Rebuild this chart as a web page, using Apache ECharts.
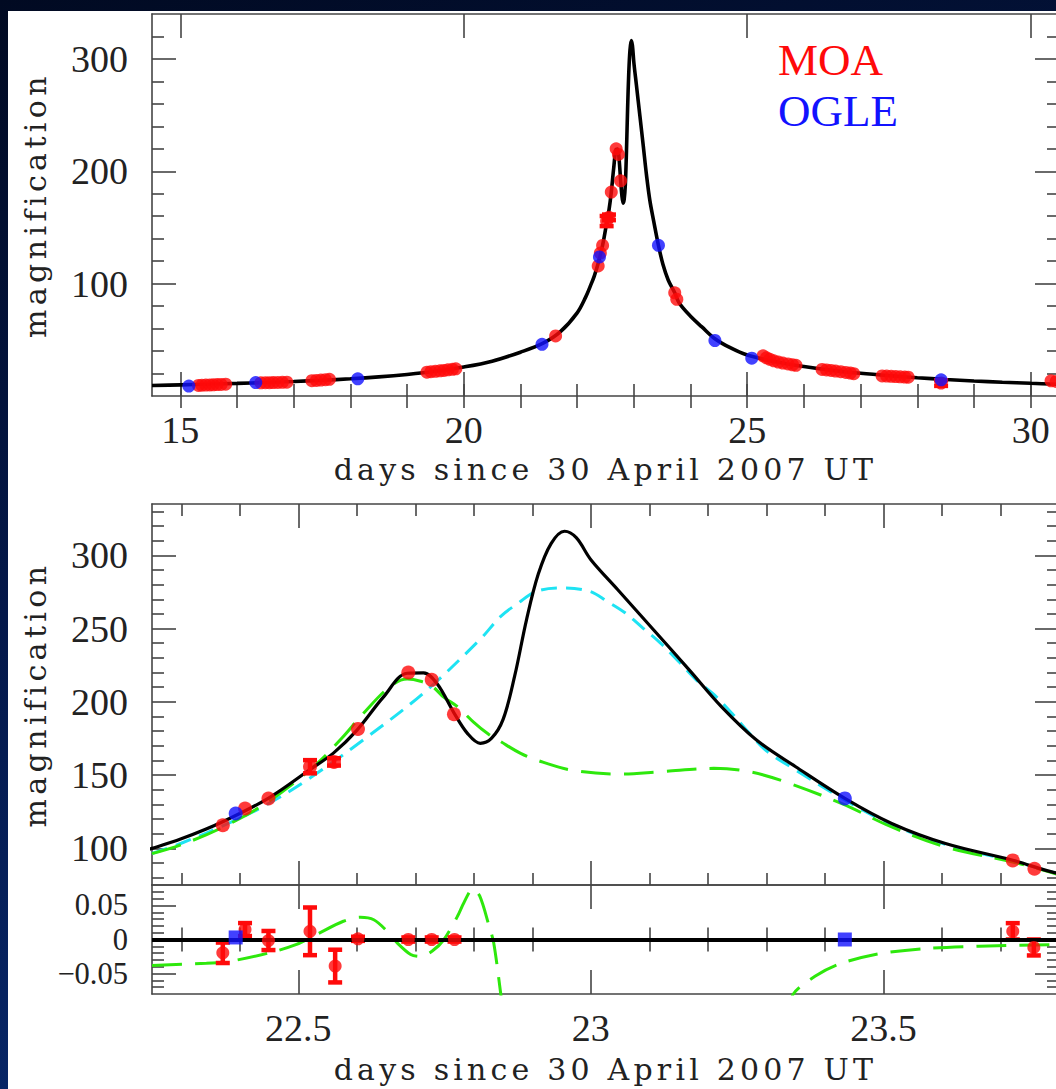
<!DOCTYPE html>
<html>
<head>
<meta charset="utf-8">
<title>Microlensing light curve: MOA and OGLE photometry</title>
<script src="https://cdn.jsdelivr.net/npm/echarts@6/dist/echarts.min.js"></script>
<style>
  html, body { margin: 0; padding: 0; width: 1056px; height: 1089px; overflow: hidden;
    background: linear-gradient(165deg, #010a22 0%, #04184a 45%, #0a2e76 100%); }
  #chart { position: absolute; left: 8px; top: 11px; width: 1064px; height: 1078px; background: #ffffff; }
</style>
</head>
<body>
<div id="chart"></div>
<script>
// ---- Binary-lens model (black curve), magnification vs day ----
const modelDay = [14.5, 15.0, 15.5, 16.0, 16.5, 17.0, 17.5, 18.0, 18.5, 19.0, 19.5, 20.0, 20.5, 21.0, 21.4, 21.7,
  22.0, 22.15, 22.25, 22.3, 22.37, 22.45, 22.52, 22.56, 22.6, 22.645, 22.686, 22.714, 22.737, 22.766, 22.789,
  22.811, 22.83, 22.85, 22.87, 22.89, 22.91, 22.932, 22.955, 22.975, 23.0, 23.046, 23.107, 23.168, 23.223,
  23.283, 23.35, 23.434, 23.514, 23.606, 23.721, 23.8, 24.0, 24.2, 24.43, 24.7, 25.0, 25.5, 26.0, 26.5, 27.0,
  27.5, 28.0, 28.5, 29.0, 29.5, 30.0, 30.5];
const modelMag = [9.3, 9.9, 10.5, 11.2, 12.0, 12.9, 14.0, 15.3, 17.0, 19.2, 22.0, 25.8, 31.0, 39.0, 47.0, 57.0,
  74.0, 88.0, 100.0, 106.5, 118.0, 134.5, 153.8, 165.0, 180.5, 203.0, 219.5, 219.8, 212.5, 192.5, 178.5,
  171.7, 175.0, 188.0, 218.0, 256.0, 287.0, 308.0, 316.4, 312.0, 297.0, 276.5, 249.2, 221.8, 196.7,
  173.9, 155.7, 134.1, 117.0, 103.3, 91.9, 82.8, 71.0, 61.5, 51.0, 43.0, 36.5, 30.5, 26.2, 22.8, 20.2,
  18.1, 16.3, 14.7, 13.4, 12.3, 11.3, 10.4];

// ---- Single-lens fit (cyan dashed) ----
const pointLensDay = [22.25, 22.3, 22.383, 22.451, 22.52, 22.611, 22.714, 22.81, 22.846, 22.876, 22.907, 22.952,
  22.998, 23.028, 23.059, 23.089, 23.119, 23.15, 23.18, 23.211, 23.241, 23.271, 23.3, 23.35, 23.434, 23.514,
  23.606, 23.721, 23.8];
const pointLensMag = [96.5, 103.5, 117.5, 131.0, 148.0, 174.0, 206.0, 242.3, 258.3, 267.4, 275.4, 277.7,
  275.4, 268.5, 260.6, 250.3, 240.1, 227.5, 215.0, 204.7, 192.2, 178.5, 166.5, 153.5, 133.0, 116.3,
  102.8, 91.3, 82.4];

// ---- Alternative binary fit (green long dashes) ----
const altFitDay = [22.25, 22.3, 22.371, 22.451, 22.531, 22.575, 22.611, 22.657, 22.686, 22.709, 22.729, 22.749,
  22.772, 22.8, 22.823, 22.846, 22.88, 22.907, 22.967, 23.046, 23.119, 23.21, 23.271, 23.332, 23.429, 23.514,
  23.606, 23.721, 23.8];
const altFitMag = [96.4, 102.5, 114.4, 132.5, 157.5, 175.5, 192.0, 210.5, 215.5, 214.0, 210.5, 203.0,
  196.7, 186.0, 178.5, 172.8, 164.8, 160.3, 153.4, 150.7, 152.3, 154.6, 152.3, 145.4, 130.5, 114.6,
  101.0, 90.7, 82.0];

// ---- Fractional residual of the alternative fit ('-' leaves a gap) ----
const altResDay = [22.25, 22.343, 22.383, 22.451, 22.497, 22.531, 22.577, 22.606, 22.629, 22.652, 22.669, 22.692,
  22.709, 22.729, 22.749, 22.772, 22.783, 22.798, 22.81, 22.826, 22.834, 22.846, 22.85, 23.0,
  23.34, 23.346, 23.383, 23.423, 23.486, 23.566, 23.663, 23.8];
const altResVal = [-0.038, -0.035, -0.032, -0.0195, -0.0073, 0.0073, 0.0268, 0.0326, 0.029, 0.012, -0.005, -0.022,
  -0.025, -0.017, 0.0, 0.034, 0.054, 0.074, 0.064, 0.02, -0.005, -0.08, -0.11, '-',
  -0.11, -0.08, -0.054, -0.0365, -0.022, -0.0136, -0.0098, -0.0073];

// ---- MOA photometry ----
const moaDay = [15.32, 15.38, 15.45, 15.52, 15.58, 15.65, 15.72, 15.80,
  16.42, 16.50, 16.57, 16.64, 16.72, 16.80, 16.88,
  17.32, 17.40, 17.48, 17.56, 17.63,
  19.35, 19.42, 19.50, 19.58, 19.65, 19.72, 19.80, 19.86,
  21.62,
  22.371, 22.409, 22.449, 22.520, 22.561, 22.602, 22.688, 22.728, 22.766,
  23.721, 23.758,
  25.28, 25.34, 25.40, 25.47, 25.55, 25.63, 25.72, 25.80, 25.86,
  26.32, 26.40, 26.48, 26.56, 26.65, 26.74, 26.82, 26.88,
  27.38, 27.46, 27.54, 27.62, 27.70, 27.78, 27.84,
  28.42, 30.36, 30.45];
const moaMag = [9.4, 9.6, 9.7, 9.9, 10.0, 10.2, 10.3, 10.5,
  11.7, 11.8, 11.9, 12.0, 12.1, 12.2, 12.3,
  13.6, 13.9, 14.2, 14.5, 14.8,
  21.2, 21.6, 22.0, 22.4, 22.8, 23.3, 23.8, 24.2,
  53.5,
  115.8, 127.2, 134.0, 155.7, 159.0, 181.5, 220.0, 215.0, 191.5,
  91.8, 86.1,
  35.8, 34.0, 32.6, 31.3, 30.2, 29.3, 28.5, 27.8, 27.3,
  23.6, 23.2, 22.7, 22.2, 21.6, 21.0, 20.4, 19.9,
  17.9, 17.7, 17.5, 17.3, 17.1, 16.9, 16.7,
  11.5, 13.5, 13.0];
const moaErr = [0, 0, 0, 0, 0, 0, 0, 0,
  0, 0, 0, 0, 0, 0, 0,
  0, 0, 0, 0, 0,
  0, 0, 0, 0, 0, 0, 0, 0,
  0,
  0, 0, 0, 4.5, 2.5, 0, 0, 0, 0,
  0, 0,
  0, 0, 0, 0, 0, 0, 0, 0, 0,
  0, 0, 0, 0, 0, 0, 0, 0,
  0, 0, 0, 0, 0, 0, 0,
  2.5, 0, 0];

// ---- OGLE photometry ----
const ogleDay = [15.15, 16.33, 18.13, 21.38, 22.393, 23.434, 24.43, 25.08, 28.42];
const ogleMag = [8.8, 12.0, 15.3, 46.0, 123.8, 134.1, 49.4, 33.7, 14.4];

// ---- Residuals from the best model ----
const moaResDay = [22.371, 22.409, 22.449, 22.520, 22.563, 22.602, 22.688, 22.728, 22.767, 23.721, 23.757];
const moaResVal = [-0.0195, 0.0146, -0.0015, 0.012, -0.039, 0.001, 0.0, 0.0, 0.0, 0.012, -0.0117];
const moaResErr = [0.015, 0.0095, 0.014, 0.035, 0.024, 0.003, 0.003, 0.003, 0.003, 0.012, 0.0117];
const ogleResDay = [22.393, 23.434];
const ogleResVal = [0.003, 0.0];

// ---- Axis ticks ----
const wideDayTicks = [15, 20, 25, 30];
const wideDayMinor = [15, 16, 17, 18, 19, 20, 21, 22, 23, 24, 25, 26, 27, 28, 29, 30];
const wideMagTicks = [100, 200, 300];
const wideMagMinor = [20, 40, 60, 80, 120, 140, 160, 180, 220, 240, 260, 280, 320];
const zoomDayTicks = [22.5, 23, 23.5];
const zoomDayMinor = [22.3, 22.4, 22.6, 22.7, 22.8, 22.9, 23.1, 23.2, 23.3, 23.4, 23.6, 23.7];
const zoomMagTicks = [100, 150, 200, 250, 300];
const zoomMagMinor = [80, 90, 110, 120, 130, 140, 160, 170, 180, 190, 210, 220, 230, 240, 260, 270, 280, 290,
  310, 320, 330];
const resTicks = [-0.05, 0, 0.05];
const resOuterLabels = [-0.05, 0.05];
const resZeroLabel = [0];
const resMinor = [-0.07, -0.06, -0.04, -0.03, -0.02, -0.01, 0.01, 0.02, 0.03, 0.04, 0.06, 0.07];

const dayTitle = 'days since 30 April 2007 UT';
const magTitle = 'magnification';

// ---- styling ----
const RED = '#ff0a0a', BLUE = '#1212ff', CYAN = '#1ee3f3', GREEN = '#2ee80c';
const FRAME = '#454545';
const tickFont = { fontFamily: 'Liberation Serif', fontSize: 38, color: '#222', hideOverlap: false };
const nameFont = { fontFamily: 'DejaVu Serif', fontSize: 30, color: '#222' };

const pairs = (xs, ys) => xs.map((x, i) => [x, ys[i]]);
const triples = (xs, ys, es) => xs.map((x, i) => [x, ys[i], es[i]]);
const signed = v => (v < 0 ? '\u2212' + String(-v) : String(v));

// Four axes per side pair: labelled major ticks, minor ticks, and the mirrored pair.
function frameAxes(kind, gridIndex, min, max, majors, minors, first, second) {
  const sides = kind === 'x' ? ['bottom', 'top'] : ['left', 'right'];
  const tick = (vals, len) => ({ show: true, inside: true, length: len, customValues: vals,
    lineStyle: { color: FRAME, width: 1.6 } });
  const base = () => ({ gridIndex, type: 'value', min, max, splitLine: { show: false },
    axisLine: { show: true, onZero: false, lineStyle: { color: FRAME, width: 1.6 } } });
  return [
    Object.assign(base(), { position: sides[0], axisTick: tick(majors, 24), axisLabel: { show: false } }, first || {}),
    Object.assign(base(), { position: sides[0], axisLine: { show: false }, axisTick: tick(minors, 12), axisLabel: { show: false } }, second || {}),
    Object.assign(base(), { position: sides[1], axisTick: tick(majors, 24), axisLabel: { show: false } }),
    Object.assign(base(), { position: sides[1], axisLine: { show: false }, axisTick: tick(minors, 12), axisLabel: { show: false } })
  ];
}

function errorBars(color) {
  return function (params, api) {
    const x = api.value(0), y = api.value(1), e = api.value(2);
    if (!(e > 0)) return;
    const hi = api.coord([x, y + e]);
    const lo = api.coord([x, y - e]);
    const cap = 7;
    const style = { stroke: color, lineWidth: 4.5 };
    return { type: 'group', children: [
      { type: 'line', shape: { x1: hi[0], y1: hi[1], x2: lo[0], y2: lo[1] }, style },
      { type: 'line', shape: { x1: hi[0] - cap, y1: hi[1], x2: hi[0] + cap, y2: hi[1] }, style },
      { type: 'line', shape: { x1: lo[0] - cap, y1: lo[1], x2: lo[0] + cap, y2: lo[1] }, style }
    ] };
  };
}

// residual labels sit close together, so they use a slightly smaller face
const resLabel = vals => Object.assign({ show: true, customValues: vals, margin: 24, formatter: signed,
  showMinLabel: true, showMaxLabel: true }, tickFont, { fontSize: 30.5 });

const xAxes = [].concat(
  frameAxes('x', 0, 14.5, 30.5, wideDayTicks, wideDayMinor, {
    axisLabel: Object.assign({ show: true, customValues: wideDayTicks, margin: 15 }, tickFont),
    name: dayTitle, nameLocation: 'middle', nameGap: 58, nameTextStyle: nameFont }),
  frameAxes('x', 1, 22.25, 23.8, zoomDayTicks, zoomDayMinor),
  frameAxes('x', 2, 22.25, 23.8, zoomDayTicks, zoomDayMinor, {
    axisLabel: Object.assign({ show: true, customValues: zoomDayTicks, margin: 15 }, tickFont),
    name: dayTitle, nameLocation: 'middle', nameGap: 60, nameTextStyle: nameFont })
);
const yAxes = [].concat(
  frameAxes('y', 0, 0, 340, wideMagTicks, wideMagMinor, {
    axisLabel: Object.assign({ show: true, customValues: wideMagTicks, margin: 24 }, tickFont),
    name: magTitle, nameLocation: 'middle', nameGap: 102, nameTextStyle: nameFont }),
  frameAxes('y', 1, 75, 335, zoomMagTicks, zoomMagMinor, {
    axisLabel: Object.assign({ show: true, customValues: zoomMagTicks, margin: 24 }, tickFont),
    name: magTitle, nameLocation: 'middle', nameGap: 102, nameTextStyle: nameFont }),
  // the tightly packed residual labels are split over the two left axes
  frameAxes('y', 2, -0.08, 0.08, resTicks, resMinor,
    { axisLabel: resLabel(resOuterLabels) },
    { axisLabel: resLabel(resZeroLabel) })
);

const series = [
  // wide view
  { name: 'model', type: 'line', xAxisIndex: 0, yAxisIndex: 0, data: pairs(modelDay, modelMag),
    symbol: 'none', smooth: 0.35, lineStyle: { color: '#000', width: 3.6 }, z: 2 },
  { name: 'MOA', type: 'custom', xAxisIndex: 0, yAxisIndex: 0, data: triples(moaDay, moaMag, moaErr),
    encode: { x: 0, y: 1 }, renderItem: errorBars(RED), clip: true, z: 3 },
  { name: 'MOA', type: 'scatter', xAxisIndex: 0, yAxisIndex: 0, data: pairs(moaDay, moaMag),
    symbol: 'circle', symbolSize: 13, itemStyle: { color: RED }, z: 4 },
  { name: 'OGLE', type: 'scatter', xAxisIndex: 0, yAxisIndex: 0, data: pairs(ogleDay, ogleMag),
    symbol: 'circle', symbolSize: 13, itemStyle: { color: BLUE }, z: 5 },

  // zoom on the caustic crossing
  { name: 'single lens', type: 'line', xAxisIndex: 4, yAxisIndex: 4, data: pairs(pointLensDay, pointLensMag),
    symbol: 'none', smooth: 0.35, lineStyle: { color: CYAN, width: 3, type: [16, 9] }, z: 2 },
  { name: 'alternative', type: 'line', xAxisIndex: 4, yAxisIndex: 4, data: pairs(altFitDay, altFitMag),
    symbol: 'none', smooth: 0.35, lineStyle: { color: GREEN, width: 3, type: [30, 13] }, z: 2 },
  { name: 'model', type: 'line', xAxisIndex: 4, yAxisIndex: 4, data: pairs(modelDay, modelMag),
    symbol: 'none', smooth: 0.35, lineStyle: { color: '#000', width: 3.2 }, z: 3 },
  { name: 'MOA', type: 'custom', xAxisIndex: 4, yAxisIndex: 4, data: triples(moaDay, moaMag, moaErr),
    encode: { x: 0, y: 1 }, renderItem: errorBars(RED), clip: true, z: 4 },
  { name: 'MOA', type: 'scatter', xAxisIndex: 4, yAxisIndex: 4, data: pairs(moaDay, moaMag), clip: true,
    symbol: 'circle', symbolSize: 14, itemStyle: { color: RED }, z: 5 },
  { name: 'OGLE', type: 'scatter', xAxisIndex: 4, yAxisIndex: 4, data: pairs(ogleDay, ogleMag), clip: true,
    symbol: 'circle', symbolSize: 14, itemStyle: { color: BLUE }, z: 6 },

  // residuals
  { name: 'alternative residual', type: 'line', xAxisIndex: 8, yAxisIndex: 8, data: pairs(altResDay, altResVal),
    symbol: 'none', smooth: 0.3, connectNulls: false, lineStyle: { color: GREEN, width: 3, type: [30, 13] }, z: 3,
    markLine: { silent: true, symbol: 'none', label: { show: false }, animation: false,
      lineStyle: { color: '#000', width: 4, type: 'solid' }, data: [{ yAxis: 0 }] } },
  { name: 'MOA', type: 'custom', xAxisIndex: 8, yAxisIndex: 8, data: triples(moaResDay, moaResVal, moaResErr),
    encode: { x: 0, y: 1 }, renderItem: errorBars(RED), clip: true, z: 4 },
  { name: 'MOA', type: 'scatter', xAxisIndex: 8, yAxisIndex: 8, data: pairs(moaResDay, moaResVal),
    symbol: 'circle', symbolSize: 13, itemStyle: { color: RED }, z: 5 },
  { name: 'OGLE', type: 'scatter', xAxisIndex: 8, yAxisIndex: 8, data: pairs(ogleResDay, ogleResVal),
    symbol: 'rect', symbolSize: 14, itemStyle: { color: BLUE }, z: 6 }
];

const option = {
  animation: false,
  backgroundColor: '#ffffff',
  grid: [
    { left: 144, top: 3, width: 907, height: 382, outerBoundsMode: 'none' },
    { left: 144, top: 493, width: 907, height: 381, outerBoundsMode: 'none' },
    { left: 144, top: 874, width: 907, height: 109, outerBoundsMode: 'none' }
  ],
  legend: {
    orient: 'vertical', left: 760, top: 21, itemWidth: 0, itemHeight: 0, itemGap: 6,
    selectedMode: false,
    textStyle: { fontFamily: 'Liberation Serif', fontSize: 45 },
    data: [
      { name: 'MOA', icon: 'none', textStyle: { color: RED } },
      { name: 'OGLE', icon: 'none', textStyle: { color: BLUE } }
    ]
  },
  xAxis: xAxes,
  yAxis: yAxes,
  series
};

const chart = echarts.init(document.getElementById('chart'), null, { renderer: 'svg' });
chart.setOption(option);

// open up the lettering of the axis titles
const titleSpacing = { [dayTitle]: '4.2px', [magTitle]: '4.4px' };
document.querySelectorAll('#chart text').forEach(t => {
  const s = titleSpacing[t.textContent];
  if (s) t.style.letterSpacing = s;
});
</script>
</body>
</html>
